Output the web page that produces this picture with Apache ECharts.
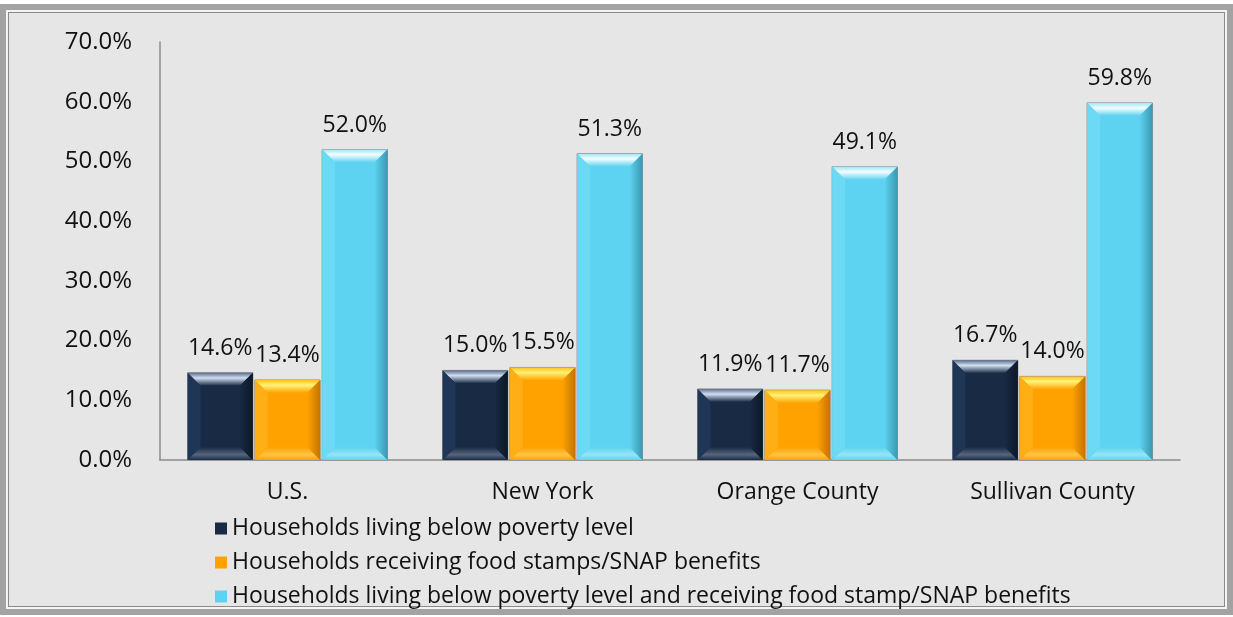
<!DOCTYPE html>
<html>
<head>
<meta charset="utf-8">
<script src="https://cdn.jsdelivr.net/npm/echarts@6/dist/echarts.min.js"></script>
<style>
  html, body { margin: 0; padding: 0; background: #fff; }
  #frame {
    position: absolute; left: 0; top: 4px; width: 1233px; height: 611px;
    box-sizing: border-box; border: 6px solid #a3a3a3;
    box-shadow: inset 0 0 0 2px #f4f4f4, inset 0 0 0 3px #8a8a8a;
    background: #e6e6e6;
  }
  #chart { position: absolute; left: 0; top: 0; width: 1233px; height: 617px; }
</style>
</head>
<body>
<div id="frame"></div>
<div id="chart"></div>
<script>
const categories = ['U.S.', 'New York', 'Orange County', 'Sullivan County']
const seriesNames = [
  'Households living below poverty level',
  'Households receiving food stamps/SNAP benefits',
  'Households living below poverty level and receiving food stamp/SNAP benefits'
]
const poverty = [14.6, 15.0, 11.9, 16.7]
const snap = [13.4, 15.5, 11.7, 14.0]
const povertyAndSnap = [52.0, 51.3, 49.1, 59.8]
const yMin = 0, yMax = 70, yStep = 10

// bevel shades per series
const shades = [
  { base: '#182a44', hi: '#d2def0', top: '#5a6f8e', left: '#203656', right: '#0d1727', bottom: '#56667e' },
  { base: '#ffa200', hi: '#fff27a', top: '#ffc21a', left: '#ffae14', right: '#c47400', bottom: '#ffc448' },
  { base: '#5dd3f1', hi: '#f4fdff', top: '#9fe6f8', left: '#6cdaf4', right: '#3b98b3', bottom: '#96e5f7' }
]

const chart = echarts.init(document.getElementById('chart'))

function renderBar(params, api) {
  const s = params.seriesIndex
  const c = shades[s]
  const cat = api.value(0), val = api.value(1)
  const base = api.coord([cat, 0])
  const topPt = api.coord([cat, val])
  const band = api.size([1, 0])[0]
  const w = band * 0.256
  const gap = 2
  const groupW = 3 * w + 2 * gap
  const x = base[0] - groupW / 2 + s * (w + gap)
  const yT = topPt[1], yB = base[1]
  const h = yB - yT
  const b = Math.min(13, h / 3, w / 4)
  const poly = (pts, fill) => ({ type: 'polygon', shape: { points: pts }, style: { fill: fill } })
  return {
    type: 'group',
    children: [
      { type: 'rect', shape: { x: x, y: yT, width: w, height: h }, style: { fill: c.base, stroke: '#8c8c8c', lineWidth: 1 } },
      poly([[x, yT], [x + w, yT], [x + w - b, yT + b], [x + b, yT + b]],
        new echarts.graphic.LinearGradient(0, 0, 0, 1, [
          { offset: 0, color: c.top }, { offset: 0.4, color: c.hi }, { offset: 1, color: c.base }
        ])),
      poly([[x, yB], [x + w, yB], [x + w - b, yB - b], [x + b, yB - b]],
        new echarts.graphic.LinearGradient(0, 0, 0, 1, [
          { offset: 0, color: c.base }, { offset: 0.6, color: c.bottom }, { offset: 1, color: c.base }
        ])),
      poly([[x, yT], [x + b, yT + b], [x + b, yB - b], [x, yB]], c.left),
      poly([[x + w, yT], [x + w - b, yT + b], [x + w - b, yB - b], [x + w, yB]],
        new echarts.graphic.LinearGradient(0, 0, 1, 0, [
          { offset: 0, color: c.base }, { offset: 1, color: c.right }
        ])),
      {
        type: 'text',
        style: {
          x: x + w / 2, y: yT - 13, text: val.toFixed(1) + '%',
          align: 'center', verticalAlign: 'bottom',
          font: '23px "Open Sans"', fill: '#111'
        }
      }
    ]
  }
}

const lists = [poverty, snap, povertyAndSnap]

const option = {
  animation: false,
  backgroundColor: 'transparent',
  textStyle: { fontFamily: 'Open Sans' },
  grid: { left: 160, right: 53, top: 42, bottom: 157 },
  legend: {
    orient: 'vertical',
    left: 210, top: 512,
    itemWidth: 12, itemHeight: 12, itemGap: 11,
    icon: 'rect',
    textStyle: { fontSize: 23, color: '#111', fontFamily: 'Open Sans' },
    data: seriesNames
  },
  xAxis: {
    type: 'category',
    data: categories,
    axisLine: { lineStyle: { color: '#8c8c8c', width: 1.5 } },
    axisTick: { show: false },
    axisLabel: { fontSize: 23, color: '#111', margin: 21 }
  },
  yAxis: {
    type: 'value',
    min: yMin, max: yMax, interval: yStep,
    axisLine: { show: true, lineStyle: { color: '#8c8c8c', width: 1.5 } },
    axisTick: { show: false },
    splitLine: { show: false },
    axisLabel: { fontSize: 24, color: '#111', margin: 28, formatter: v => v.toFixed(1) + '%' }
  },
  series: seriesNames.map((name, i) => ({
    name: name,
    type: 'custom',
    renderItem: renderBar,
    itemStyle: { color: shades[i].base },
    encode: { x: 0, y: 1 },
    data: lists[i].map((v, k) => [k, v])
  }))
}

chart.setOption(option)
window.addEventListener('resize', () => chart.resize())
</script>
</body>
</html>
